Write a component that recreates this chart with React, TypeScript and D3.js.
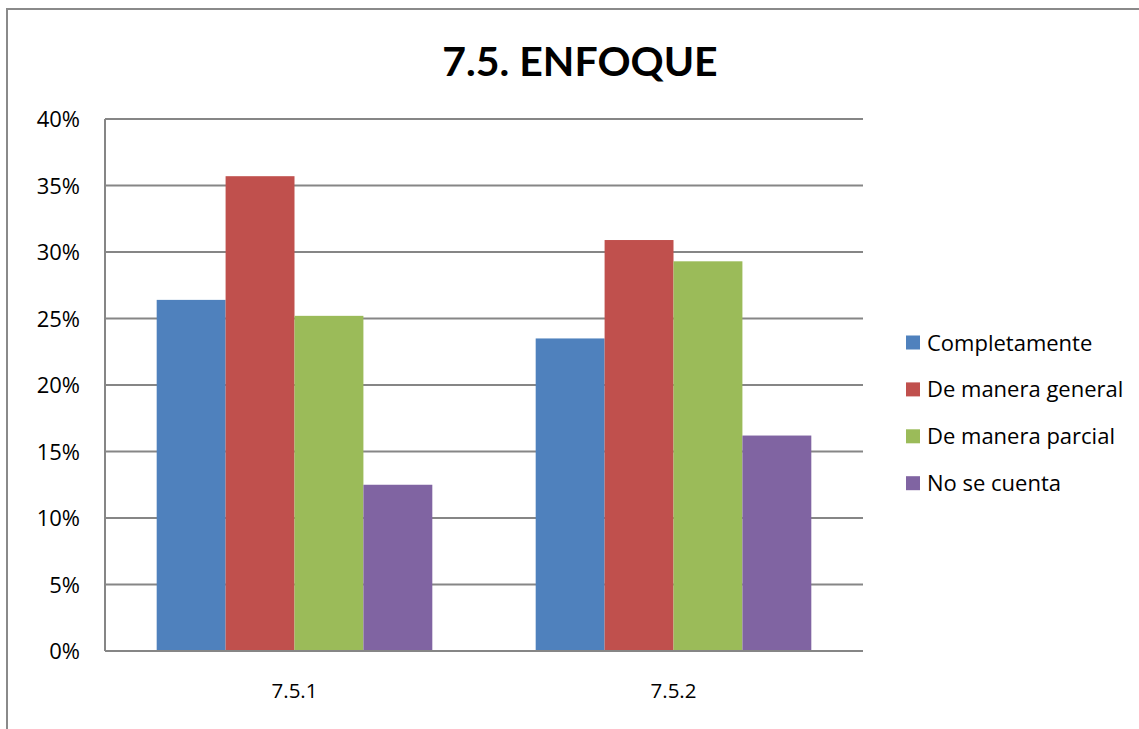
import React from "react";
import * as d3 from "d3";

const categories = ["7.5.1", "7.5.2"];
const seriesNames = ["Completamente", "De manera general", "De manera parcial", "No se cuenta"];
const seriesColors = ["#4F81BD", "#C0504D", "#9BBB59", "#8064A2"];
const completamente = [0.264, 0.235];
const deManeraGeneral = [0.357, 0.309];
const deManeraParcial = [0.252, 0.293];
const noSeCuenta = [0.125, 0.162];
const seriesValues = [completamente, deManeraGeneral, deManeraParcial, noSeCuenta];
const yTicks = [0, 0.05, 0.1, 0.15, 0.2, 0.25, 0.3, 0.35, 0.4];
const title = "7.5. ENFOQUE";

const W = 1139;
const H = 729;
const plot = { left: 105, right: 863, top: 119, bottom: 651 };
const FONT = "'Open Sans', Lato, sans-serif";
const TITLE_FONT = "Lato, 'Open Sans', sans-serif";
const GRID = "#868686";

export default function App() {
  const x = d3.scaleBand<string>().domain(categories).range([plot.left, plot.right]).paddingInner(0).paddingOuter(0);
  const y = d3.scaleLinear().domain([0, 0.4]).range([plot.bottom, plot.top]);
  // Excel-style gap width 150%: band = 4*w + 1.5*w
  const barW = x.bandwidth() / (seriesNames.length + 1.5);
  const fmt = d3.format(".0%");

  return (
    <svg width={W} height={H} style={{ position: "absolute", left: 0, top: 0, background: "#fff" }} fontFamily={FONT}>
      <rect x={0} y={0} width={W} height={H} fill="#fff" />
      <rect x={7} y={9} width={W + 20} height={H + 20} fill="#fff" stroke="#8a8a8a" strokeWidth={2} />
      <text x={580} y={76} textAnchor="middle" fontSize={41} fontWeight="bold" fill="#000" fontFamily={TITLE_FONT}>{title}</text>
      {yTicks.map((t) => (
        <g key={t}>
          <line x1={plot.left} x2={plot.right} y1={y(t)} y2={y(t)} stroke={GRID} strokeWidth={2} />
          <text x={80} y={y(t) + 8} textAnchor="end" fontSize={22} fill="#000">{fmt(t)}</text>
        </g>
      ))}
      <line x1={plot.left} x2={plot.left} y1={plot.top} y2={plot.bottom} stroke={GRID} strokeWidth={2} />
      {categories.map((c, ci) => {
        const x0 = (x(c) as number) + barW * 0.75;
        return (
          <g key={c}>
            {seriesValues.map((vals, si) => (
              <rect key={si} x={x0 + si * barW} y={y(vals[ci])} width={barW} height={y(0) - y(vals[ci])} fill={seriesColors[si]} />
            ))}
            <text x={(x(c) as number) + x.bandwidth() / 2} y={698} textAnchor="middle" fontSize={20.5} fill="#000">{c}</text>
          </g>
        );
      })}
      <line x1={plot.left} x2={plot.right} y1={plot.bottom} y2={plot.bottom} stroke={GRID} strokeWidth={2} />
      {seriesNames.map((n, i) => {
        const cy = 342.5 + i * 46.9;
        return (
          <g key={n}>
            <rect x={906} y={cy - 7} width={14} height={14} fill={seriesColors[i]} />
            <text x={927} y={cy + 8} fontSize={22} fill="#000">{n}</text>
          </g>
        );
      })}
    </svg>
  );
}
